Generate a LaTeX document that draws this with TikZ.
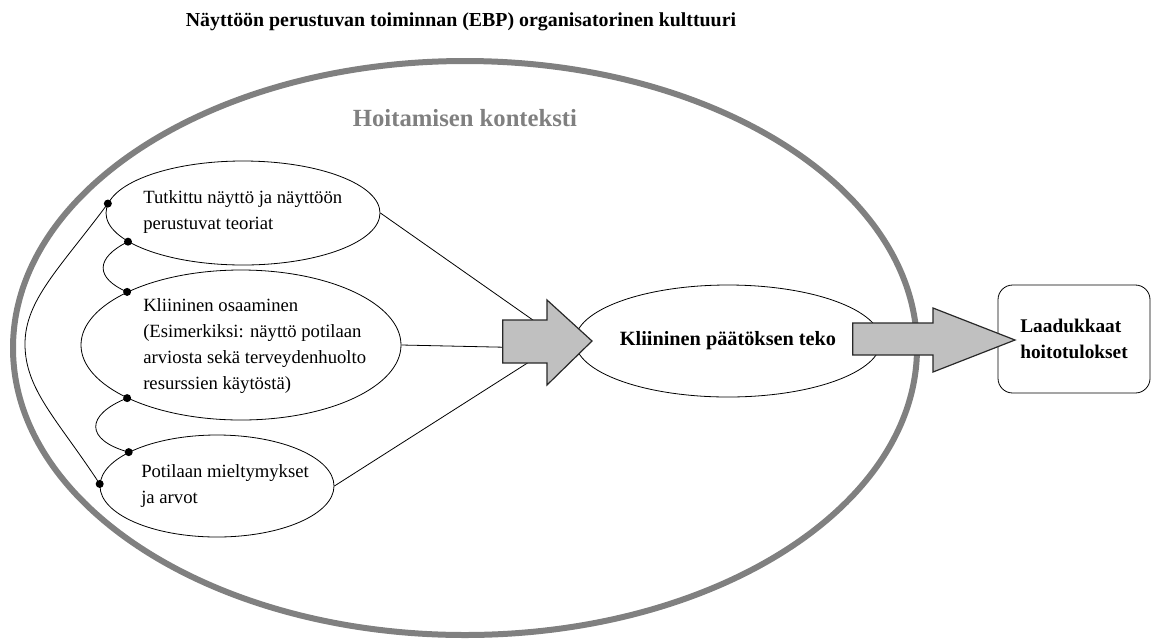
\documentclass[tikz,border=0pt]{standalone}
\usepackage{fontspec}
\setmainfont{Liberation Serif}
\usetikzlibrary{shapes.geometric}
\definecolor{ctxgray}{RGB}{128,128,128}
\definecolor{arrfill}{RGB}{192,192,192}
\definecolor{arrline}{RGB}{40,40,40}
\begin{document}
\begin{tikzpicture}[x=0.75pt,y=-0.75pt,
  oval/.style={draw, ellipse, line width=0.6pt, inner sep=0pt},
  body/.style={align=left, inner sep=0pt, font=\fontsize{14}{19.5}\selectfont},
  boldtxt/.style={align=left, inner sep=0pt, font=\fontsize{14.5}{20}\selectfont\bfseries},
  dotnode/.style={circle, fill=black, inner sep=0pt, minimum size=6pt},
  thinline/.style={line width=0.6pt},
  blockarrow/.style={draw=arrline, fill=arrfill, line width=0.9pt, line join=miter},
  ctxline/.style={draw=ctxgray, line width=4.5pt}
]
\useasboundingbox (0,0) rectangle (1155,640);

% title
\node[boldtxt, font=\fontsize{14.9}{20}\selectfont\bfseries, anchor=center] (title) at (461,22) {Näyttöön perustuvan toiminnan (EBP) organisatorinen kulttuuri};

% context ellipse
\draw[ctxline] (465,348) ellipse [x radius=452, y radius=287];
\node[inner sep=0pt, text=ctxgray, font=\fontsize{18.5}{22}\selectfont\bfseries] (ctx) at (465,118) {Hoitamisen konteksti};

% left ellipses
\node[oval, minimum width=205.5pt, minimum height=78pt] (e1) at (243,213) {};
\node[oval, minimum width=240pt, minimum height=112.5pt] (e2) at (241,345) {};
\node[oval, minimum width=175.5pt, minimum height=76.5pt] (e3) at (217,486) {};

\node[body, anchor=west] (t1) at (143,212) {Tutkittu näyttö ja näyttöön\\perustuvat teoriat};
\node[body, anchor=west] (t2) at (143,346) {Kliininen osaaminen\\(Esimerkiksi: näyttö potilaan\\arviosta sekä terveydenhuolto\\resurssien käytöstä)};
\node[body, anchor=west] (t3) at (141,486) {Potilaan mieltymykset\\ja arvot};

% decision ellipse
\node[oval, minimum width=201pt, minimum height=84pt, boldtxt, font=\fontsize{15.2}{20}\selectfont\bfseries, align=center] (e4) at (728,341) {Kliininen päätöksen teko};

% outcome box
\node[draw, line width=0.6pt, rounded corners=11pt, minimum width=114pt, minimum height=81pt, boldtxt] (out) at (1074,339) {Laadukkaat\\hoitotulokset};

% dots on the left ellipses
\node[dotnode] (d1) at (e1.176) {};
\node[dotnode] (d2) at (e1.194) {};
\node[dotnode] (d3) at (e2.155) {};
\node[dotnode] (d4) at (e2.205) {};
\node[dotnode] (d5) at (e3.159) {};
\node[dotnode] (d6) at (e3.179) {};

% curved links
\draw[thinline] (d1.center) .. controls (60,268) and (25,300) .. (25,344) .. controls (25,390) and (58,420) .. (d6.center);
\draw[thinline] (d2.center) .. controls (95,258) and (95,278) .. (d3.center);
\draw[thinline] (d4.center) .. controls (85,415) and (85,440) .. (d5.center);

% lines to the first block arrow
\coordinate (c1) at (540,325);
\coordinate (c2) at (540,348);
\coordinate (c3) at (540,355);
\draw[thinline] (e1.east) -- (c1);
\draw[thinline] (e2.east) -- (c2);
\draw[thinline] (e3.east) -- (c3);

% block arrows
\draw[blockarrow] (502.7,320) -- (547,320) -- (547,300) -- (592,341) -- (547,385) -- (547,363) -- (502.7,363) -- cycle;
\draw[blockarrow] (852.7,323) -- (933,323) -- (933,308) -- (1015,340) -- (933,372) -- (933,355) -- (852.7,355) -- cycle;
\end{tikzpicture}
\end{document}
